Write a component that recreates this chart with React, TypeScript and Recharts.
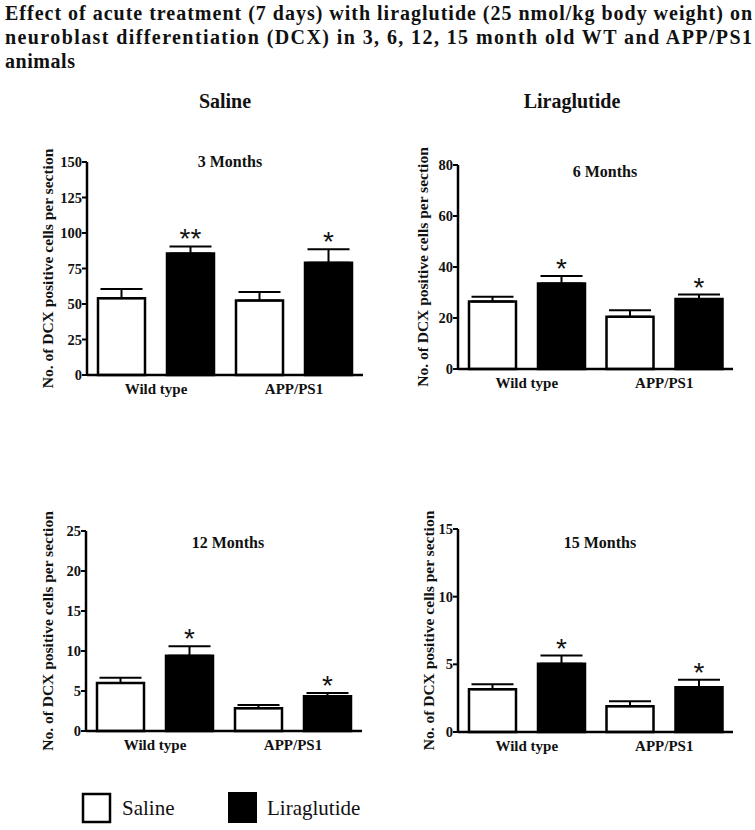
import React from 'react';
import { BarChart, Bar, XAxis, YAxis, ErrorBar, LabelList } from 'recharts';

const SERIF = '"Liberation Serif", "Times New Roman", serif';
const SANS = '"Liberation Sans", Arial, sans-serif';

const groups = ['Wild type', 'APP/PS1'];
const seriesNames = ['Saline', 'Liraglutide'];
const panelTitles = ['3 Months', '6 Months', '12 Months', '15 Months'];
const yLabel = 'No. of DCX positive cells per section';

// 3 months
const saline3 = [54, 52.5];
const salineErr3 = [6.5, 6];
const lira3 = [85.5, 79];
const liraErr3 = [5, 9.5];
const stars3 = ['**', '*'];
const ticks3 = [0, 25, 50, 75, 100, 125, 150];

// 6 months
const saline6 = [26.5, 20.5];
const salineErr6 = [1.8, 2.5];
const lira6 = [33.5, 27.5];
const liraErr6 = [3, 1.7];
const stars6 = ['*', '*'];
const ticks6 = [0, 20, 40, 60, 80];

// 12 months
const saline12 = [6, 2.85];
const salineErr12 = [0.65, 0.4];
const lira12 = [9.4, 4.35];
const liraErr12 = [1.2, 0.4];
const stars12 = ['*', '*'];
const ticks12 = [0, 5, 10, 15, 20, 25];

// 15 months
const saline15 = [3.15, 1.9];
const salineErr15 = [0.37, 0.37];
const lira15 = [5.05, 3.3];
const liraErr15 = [0.6, 0.57];
const stars15 = ['*', '*'];
const ticks15 = [0, 5, 10, 15];

const buildRows = (s: number[], se: number[], l: number[], le: number[], st: string[]) =>
  groups.map((g, i) => ({
    group: g,
    saline: s[i],
    salineErr: [0, se[i]],
    lira: l[i],
    liraErr: [0, le[i]],
    liraUp: le[i],
    star: st[i],
  }));

const panels = [
  { rows: buildRows(saline3, salineErr3, lira3, liraErr3, stars3), ticks: ticks3, axisX: 87, topY: 162, bottomY: 375, endX: 363, labelDx: 40 },
  { rows: buildRows(saline6, salineErr6, lira6, liraErr6, stars6), ticks: ticks6, axisX: 458, topY: 165, bottomY: 369, endX: 733, labelDx: 36 },
  { rows: buildRows(saline12, salineErr12, lira12, liraErr12, stars12), ticks: ticks12, axisX: 86, topY: 531, bottomY: 731, endX: 362, labelDx: 39 },
  { rows: buildRows(saline15, salineErr15, lira15, liraErr15, stars15), ticks: ticks15, axisX: 458, topY: 529, bottomY: 732, endX: 733, labelDx: 30 },
];

const YAXIS_W = 60;
const TOP_PAD = 45;
const XAXIS_H = 40;

const Panel = ({ p }: { p: any }) => {
  const width = p.endX - p.axisX + YAXIS_W + 10;
  const height = p.bottomY - p.topY + TOP_PAD + XAXIS_H;
  const max = p.ticks[p.ticks.length - 1];

  // star above the liraglutide error bar
  const starContent = (props: any) => {
    const { x, y, width: w, height: h, index, value } = props;
    const row = p.rows[index] || p.rows.find((r: any) => r.star === value);
    if (!row) return null;
    const pxPerUnit = h / row.lira;
    const top = y - row.liraUp * pxPerUnit;
    return (
      <text x={x + w / 2} y={top + 2} textAnchor="middle" fontFamily={SANS} fontSize={28} fill="#111">
        {value}
      </text>
    );
  };

  const yLabelContent = (props: any) => {
    const vb = props.viewBox;
    const cx = p.axisX - p.labelDx - (p.axisX - YAXIS_W - vb.x);
    const cy = vb.y + vb.height / 2;
    return (
      <text
        x={cx}
        y={cy}
        transform={`rotate(-90, ${cx}, ${cy})`}
        textAnchor="middle"
        dominantBaseline="central"
        fontFamily={SERIF}
        fontWeight="bold"
        fontSize={15.5}
        fill="#111"
      >
        {yLabel}
      </text>
    );
  };

  return (
    <div style={{ position: 'absolute', left: p.axisX - YAXIS_W, top: p.topY - TOP_PAD }}>
      <BarChart
        width={width}
        height={height}
        data={p.rows}
        margin={{ top: TOP_PAD, right: 10, bottom: 0, left: 0 }}
        barSize={47}
        barGap={22}
      >
        <XAxis
          dataKey="group"
          height={XAXIS_H}
          axisLine={{ stroke: '#000', strokeWidth: 2.5 }}
          tickLine={false}
          tickSize={0}
          tickMargin={8}
          tick={{ fontFamily: SERIF, fontWeight: 'bold', fontSize: 15, fill: '#111' }}
        />
        <YAxis
          width={YAXIS_W}
          domain={[0, max]}
          ticks={p.ticks}
          interval={0}
          axisLine={{ stroke: '#000', strokeWidth: 2.5 }}
          tickLine={{ stroke: '#000', strokeWidth: 2 }}
          tickSize={5}
          tickMargin={0}
          tick={{ fontFamily: SERIF, fontWeight: 'bold', fontSize: 14.5, fill: '#111' }}
          label={{ content: yLabelContent }}
        />
        <Bar dataKey="saline" name={seriesNames[0]} fill="#fff" stroke="#000" strokeWidth={2.5} isAnimationActive={false}>
          <ErrorBar dataKey="salineErr" direction="y" width={21} stroke="#000" strokeWidth={2} />
        </Bar>
        <Bar dataKey="lira" name={seriesNames[1]} fill="#000" stroke="#000" strokeWidth={2.5} isAnimationActive={false}>
          <ErrorBar dataKey="liraErr" direction="y" width={21} stroke="#000" strokeWidth={2} />
          <LabelList dataKey="star" content={starContent} />
        </Bar>
      </BarChart>
    </div>
  );
};

const titleLines = [
  'Effect of acute treatment (7 days) with liraglutide (25 nmol/kg body weight) on',
  'neuroblast differentiation (DCX) in 3, 6, 12, 15 month old WT and APP/PS1',
  'animals',
];
const titleWidths = [747, 747, 70];
const panelTitlePos = [
  { x: 230, y: 167 },
  { x: 605, y: 177 },
  { x: 228, y: 548 },
  { x: 600, y: 548 },
];

export default function App() {
  return (
    <div style={{ position: 'absolute', left: 0, top: 0, width: 755, height: 830, background: '#fff', overflow: 'hidden' }}>
      <svg width={755} height={830} style={{ position: 'absolute', left: 0, top: 0 }}>
        {titleLines.map((t, i) => (
          <text
            key={t}
            x={5}
            y={20 + i * 24}
            textLength={titleWidths[i]}
            lengthAdjust="spacing"
            fontFamily={SERIF}
            fontWeight="bold"
            fontSize={20}
            fill="#111"
          >
            {t}
          </text>
        ))}
        <text x={225} y={108} textAnchor="middle" fontFamily={SERIF} fontWeight="bold" fontSize={20} fill="#111">
          {seriesNames[0]}
        </text>
        <text x={572} y={108} textAnchor="middle" fontFamily={SERIF} fontWeight="bold" fontSize={20} fill="#111">
          {seriesNames[1]}
        </text>
        {panelTitles.map((t, i) => (
          <text
            key={t}
            x={panelTitlePos[i].x}
            y={panelTitlePos[i].y}
            textAnchor="middle"
            fontFamily={SERIF}
            fontWeight="bold"
            fontSize={16}
            fill="#111"
          >
            {t}
          </text>
        ))}
        <rect x={83} y={794} width={27} height={28} fill="#fff" stroke="#000" strokeWidth={2.5} />
        <text x={122} y={815} fontFamily={SERIF} fontSize={21} fill="#111">
          {seriesNames[0]}
        </text>
        <rect x={228} y={792} width={29} height={31} fill="#000" />
        <text x={267} y={815} fontFamily={SERIF} fontSize={21} fill="#111">
          {seriesNames[1]}
        </text>
      </svg>
      {panels.map((p, i) => (
        <Panel key={i} p={p} />
      ))}
    </div>
  );
}
